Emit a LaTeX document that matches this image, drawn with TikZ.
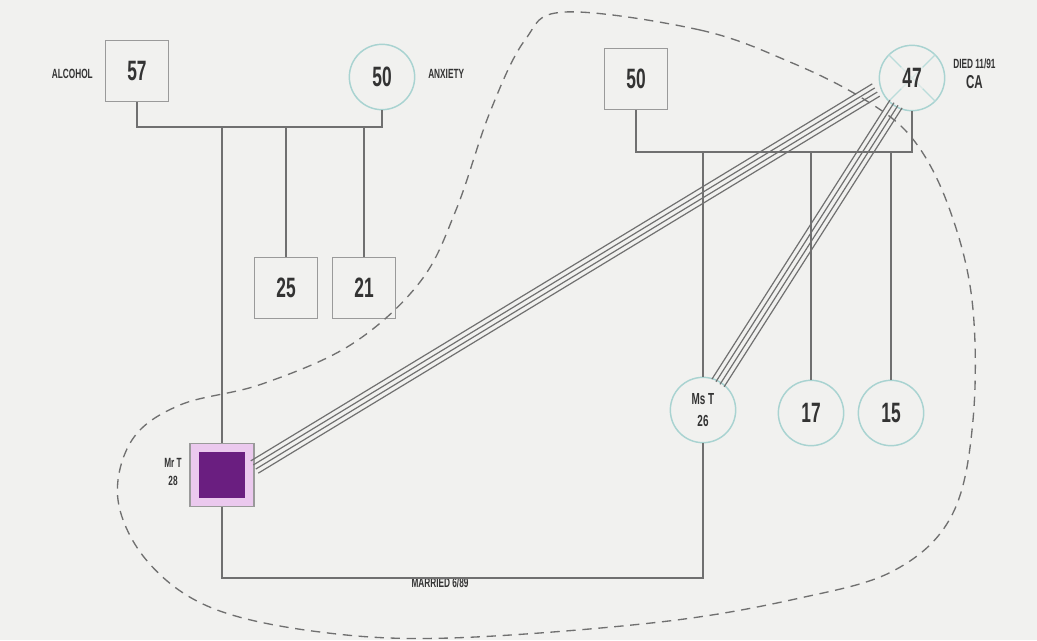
\documentclass[tikz,border=0pt]{standalone}
\usepackage{fontspec}
\newfontfamily\cond[FakeStretch=0.62]{Liberation Sans}
\usetikzlibrary{calc}
\definecolor{bg}{HTML}{F1F1EF}
\definecolor{ln}{HTML}{707070}
\definecolor{circ}{HTML}{A9D3D1}
\definecolor{sqr}{HTML}{9A9A9A}
\definecolor{txt}{HTML}{333333}
\definecolor{purp}{HTML}{6A1E80}
\definecolor{pinkish}{HTML}{EBC9EE}
\tikzset{
  male/.style={draw=sqr,line width=1.1pt,minimum width=47pt,minimum height=46pt,inner sep=0pt,font=\cond\bfseries\fontsize{21}{22}\selectfont,text=txt},
  female/.style={circle,draw=circ,line width=1.1pt,minimum size=49pt,inner sep=0pt,font=\cond\bfseries\fontsize{21}{22}\selectfont,text=txt},
  lbl/.style={font=\cond\bfseries\fontsize{10}{11}\selectfont,text=txt,inner sep=0pt},
  rel/.style={draw=ln,line width=1.2pt},
  fuse/.style={draw=ln,line width=0.9pt},
  bound/.style={draw=ln,line width=1pt,dash pattern=on 7pt off 5pt}
}
\begin{document}
\begin{tikzpicture}[x=0.75pt,y=-0.75pt]
\fill[bg] (0,0) rectangle (1037,640);
\useasboundingbox (0,0) rectangle (1037,640);

% left family of origin
\node[male] (f57) at (137,71) {57};
\node[female] (m50) at (382,77) {50};
\node[lbl,anchor=east] (alc) at (93,74) {ALCOHOL};
\node[lbl,anchor=west] (anx) at (428,74) {ANXIETY};
\node[male] (s25) at (286,288) {25};
\node[male] (s21) at (364,288) {21};
\node[draw=sqr,line width=0.8pt,fill=pinkish,minimum width=48pt,minimum height=47pt,inner sep=0pt] (mrt) at (222,475) {};
\node[fill=purp,minimum width=34pt,minimum height=34pt,inner sep=0pt] (mrtin) at (mrt.center) {};
\node[lbl,align=center,anchor=east] (mrtl) at (182,472) {Mr T\\[2pt]28};

% right family of origin
\node[male] (f50) at (636,79) {50};
\node[female] (m47) at (912,78) {};
\draw[draw=circ!80!white,line width=1pt] (m47.north west) -- (m47.south east) (m47.north east) -- (m47.south west);
\node[font=\cond\bfseries\fontsize{21}{22}\selectfont,text=txt,fill=bg,fill opacity=0.6,text opacity=1,inner sep=1pt] (m47t) at (m47.center) {47};
\node[lbl,anchor=west,align=center] (died) at (953,74) {DIED 11/91\\[4pt]{\fontsize{14}{15}\selectfont CA}};
\node[female,align=center,font=\cond\bfseries\fontsize{12}{14}\selectfont] (mst) at (703,410) {Ms T\\[3pt]26};
\node[female] (d17) at (811,413) {17};
\node[female] (d15) at (891,413) {15};
\node[lbl] (mar) at (440,583) {MARRIED 6/89};

% bars
\coordinate (lbarL) at (f57.south |- 0,127);
\coordinate (lbarR) at (m50.south |- 0,127);
\coordinate (rbarL) at (f50.south |- 0,152);
\coordinate (rbarR) at (m47.south |- 0,152);
\coordinate (marL) at (mrt.south |- 0,578);
\coordinate (marR) at (mst.south |- 0,578);

\draw[rel] (f57.south) -- (lbarL) -- (lbarR) -- (m50.south);
\draw[rel] (mrt.north |- lbarL) -- (mrt.north);
\draw[rel] (s25.north |- lbarL) -- (s25.north);
\draw[rel] (s21.north |- lbarL) -- (s21.north);
\draw[rel] (f50.south) -- (rbarL) -- (rbarR) -- (m47.south);
\draw[rel] (mst.north |- rbarL) -- (mst.north);
\draw[rel] (d17.north |- rbarL) -- (d17.north);
\draw[rel] (d15.north |- rbarL) -- (d15.north);
\draw[rel] (mrt.south) -- (marL) -- (marR) -- (mst.south);

% fused relationships
\coordinate (a1) at ($(mrt.east)+(0,-8)$);
\coordinate (b1) at ($(m47.center)+(-36,12)$);
\foreach \o in {-5.4,-1.8,1.8,5.4}{
  \draw[fuse] ($(a1)!\o pt!90:(b1)$) -- ($(b1)!\o pt!-90:(a1)$);
}
\coordinate (a2) at ($(mst.center)+(15,-27)$);
\coordinate (b2) at ($(m47.center)+(-16,26)$);
\foreach \o in {-5.4,-1.8,1.8,5.4}{
  \draw[fuse] ($(a2)!\o pt!90:(b2)$) -- ($(b2)!\o pt!-90:(a2)$);
}

% boundary
\draw[bound] plot[smooth cycle,tension=0.6] coordinates {
 (565,12) (700,30) (790,62) (862,98) (912,138) (948,205) (972,300)
 (973,420) (952,515) (895,570) (800,598) (660,622) (450,638) (320,632)
 (212,608) (148,562) (118,500) (132,440) (180,405) (262,384) (352,344)
 (420,282) (456,210) (490,112) (525,40)};
\end{tikzpicture}
\end{document}
